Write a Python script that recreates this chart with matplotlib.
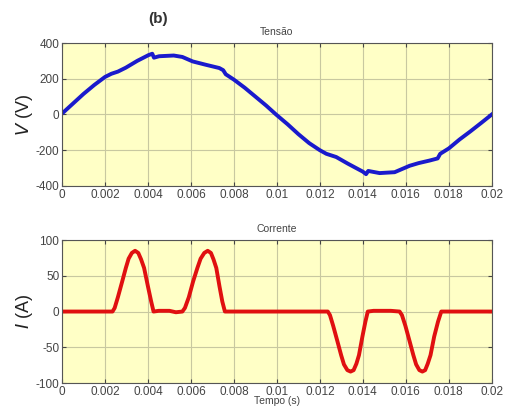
import numpy as np
import matplotlib
matplotlib.use('Agg')
import matplotlib.pyplot as plt

# tensao (time in ms, volts)
t_v = [0.0, 0.5, 1.0, 1.5, 2.0, 2.3, 2.6, 2.97, 3.5, 4.02, 4.2, 4.28, 4.52,
       5.2, 5.6, 6.08, 6.7, 7.32, 7.5, 7.62, 8.0, 8.5, 9.0, 9.5, 9.96, 10.5,
       11.0, 11.5, 12.0, 12.3, 12.76, 13.3, 14.0, 14.15, 14.25, 14.78, 15.48,
       16.18, 16.6, 17.1, 17.48, 17.6, 18.0, 18.5, 19.0, 19.5, 20.0]
v = [5, 60, 115, 165, 210, 228, 240, 262, 300, 332, 340, 318, 326,
     330, 322, 297, 278, 260, 248, 225, 195, 150, 100, 50, 0, -55,
     -110, -160, -200, -220, -238, -275, -320, -334, -316, -328, -323,
     -287, -272, -258, -246, -220, -190, -140, -95, -48, 0]

# corrente (time in ms, amperes)
t_i = [0.0, 2.35, 2.45, 2.6, 2.8, 2.97, 3.1, 3.25, 3.4, 3.55, 3.68, 3.82,
       4.0, 4.15, 4.26, 4.5, 5.0, 5.3, 5.6,
       5.72, 5.9, 6.1, 6.3, 6.45, 6.62, 6.78, 6.93, 7.05, 7.18, 7.33, 7.46,
       7.58, 12.37,
       12.47, 12.62, 12.82, 12.99, 13.12, 13.28, 13.43, 13.57, 13.7, 13.82,
       13.98, 14.12, 14.23, 14.5, 15.3, 15.71,
       15.82, 15.98, 16.18, 16.35, 16.48, 16.63, 16.77, 16.9, 17.02, 17.15,
       17.32, 17.5, 17.65, 20.0]
i = [0, 0, 5, 20, 42, 61, 74, 82, 85, 82, 73, 61,
     35, 14, 0, 1, 1, -1, 0,
     5, 20, 42, 61, 74, 82, 85, 82, 73, 61, 35, 14,
     0, 0,
     -5, -20, -42, -61, -74, -82, -84, -82, -73, -61,
     -35, -14, 0, 1, 1, 0,
     -5, -20, -42, -61, -74, -82, -84, -82, -73, -61,
     -35, -14, 0, 0]

x_ticks = [0, 0.002, 0.004, 0.006, 0.008, 0.01, 0.012, 0.014, 0.016, 0.018, 0.02]
x_labels = ['0', '0.002', '0.004', '0.006', '0.008', '0.01', '0.012',
            '0.014', '0.016', '0.018', '0.02']

plt.rcParams['font.family'] = ['Liberation Sans', 'DejaVu Sans']
plt.rcParams['axes.unicode_minus'] = False
bg = '#ffffc6'
txt = '#444444'

fig = plt.figure(figsize=(5.05, 4.16), dpi=100)
ax1 = fig.add_axes([0.1228, 0.553, 0.851, 0.3436])
ax2 = fig.add_axes([0.1228, 0.0793, 0.851, 0.3436])


def style(ax, yticks):
    ax.set_facecolor(bg)
    ax.set_xlim(0, 0.02)
    ax.set_xticks(x_ticks)
    ax.set_xticklabels(x_labels)
    ax.set_yticks(yticks)
    ax.set_ylim(yticks[0], yticks[-1])
    ax.grid(True, color='#c8c8a0', linewidth=0.8)
    ax.set_axisbelow(True)
    ax.tick_params(labelsize=8.5, colors=txt, length=3, direction='in',
                   top=True, right=True, pad=2)
    for s in ax.spines.values():
        s.set_color('#555555')
        s.set_linewidth(0.8)


ax1.plot(np.array(t_v) / 1000, v, color='#1a1acc', linewidth=2.8,
         solid_joinstyle='round')
style(ax1, [-400, -200, 0, 200, 400])
ax1.set_title('Tensão', fontsize=7.5, color=txt, pad=6)
ax1.set_ylabel(r'$\mathit{V}$ (V)', fontsize=13, color='#222222', labelpad=0)

ax2.plot(np.array(t_i) / 1000, i, color='#e01010', linewidth=2.8,
         solid_joinstyle='round')
style(ax2, [-100, -50, 0, 50, 100])
ax2.set_title('Corrente', fontsize=7.5, color=txt, pad=6)
ax2.set_ylabel(r'$\mathit{I}$ (A)', fontsize=13, color='#222222', labelpad=0)
ax2.set_xlabel('Tempo (s)', fontsize=7.5, color=txt, labelpad=-1)

fig.text(0.313, 0.955, '(b)', fontsize=11, fontweight='bold', color='#333333',
         ha='center', va='center')

fig.savefig('out.png', dpi=100)
